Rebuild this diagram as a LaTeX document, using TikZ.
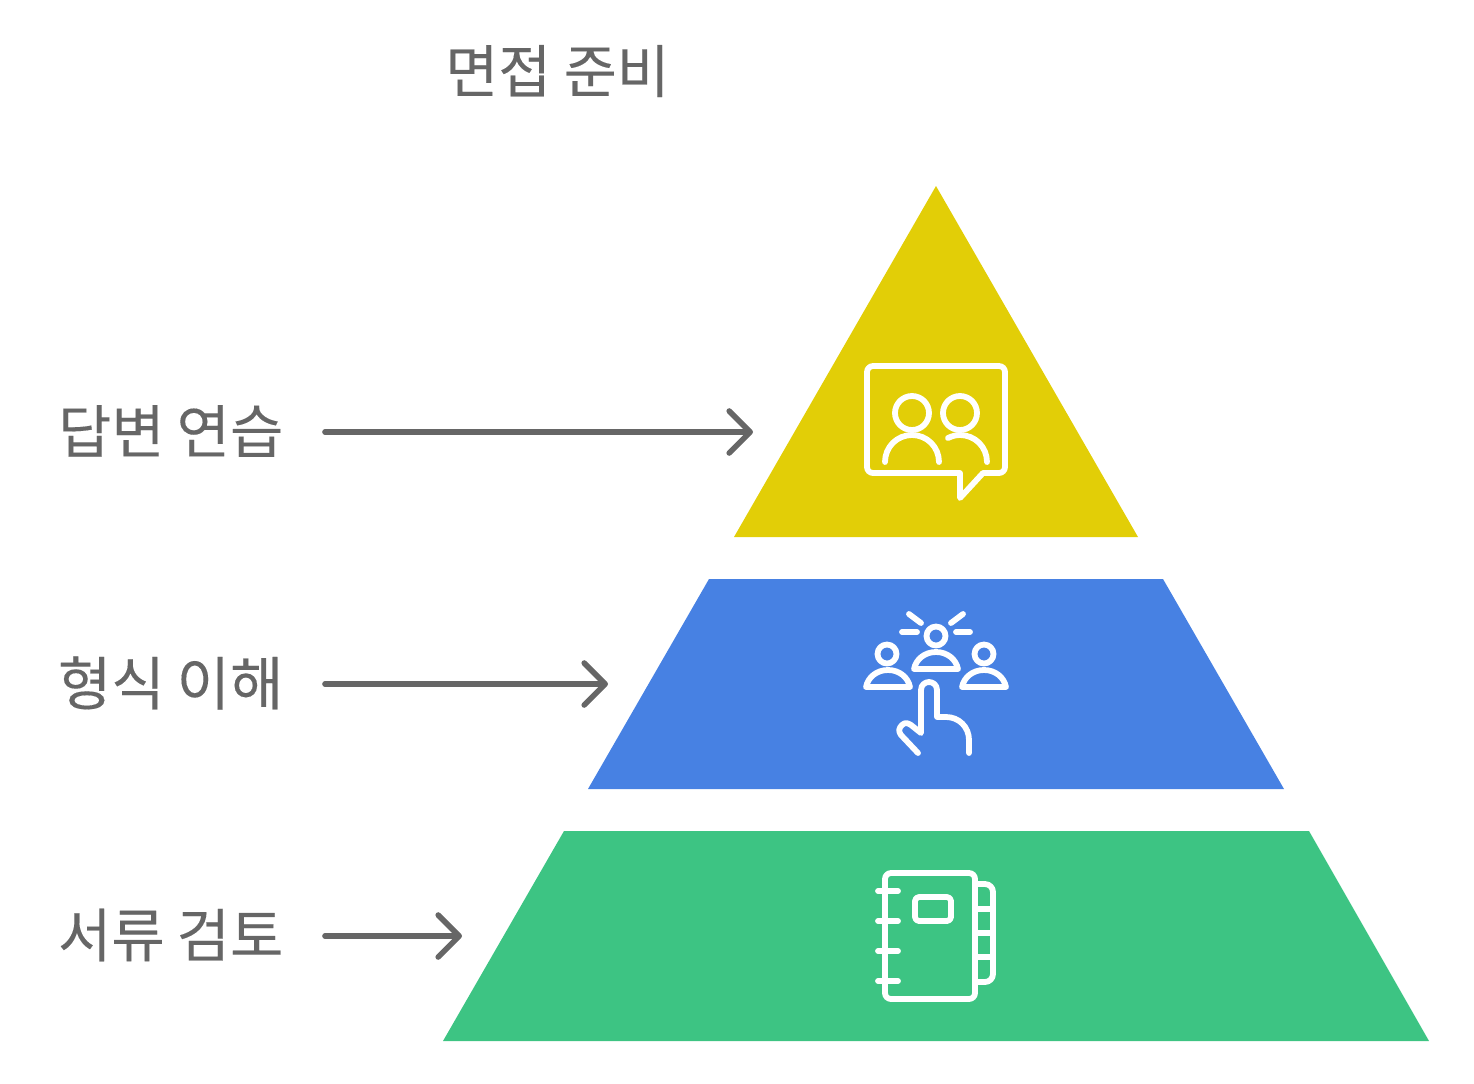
\documentclass[tikz,border=0pt]{standalone}
\usepackage{fontspec}
\usetikzlibrary{arrows.meta}
\setmainfont[FakeBold=0.15]{Noto Sans CJK KR}
\definecolor{gyel}{HTML}{E2CE07}
\definecolor{gblu}{HTML}{4781E3}
\definecolor{ggrn}{HTML}{3DC483}
\definecolor{ggry}{HTML}{666666}
\newcommand{\tightsp}{\spaceskip 6pt\relax}
\tikzset{
  lab/.style={inner sep=0pt,outer sep=0pt,text=ggry,font=\fontsize{29pt}{33pt}\selectfont,anchor=west,text width=133.5pt,align=left},
  ttl/.style={inner sep=0pt,outer sep=0pt,text=ggry,font=\fontsize{28.7pt}{33pt}\selectfont},
  arr/.style={draw=ggry,line width=2.8pt,line cap=round,-{Straight Barb[length=10.5pt,width=21pt,round,line width=2.8pt]}},
  ico/.style={draw=white,line width=2.9pt,line cap=round,line join=round},
}
\begin{document}
\begin{tikzpicture}[x=0.5pt,y=-0.5pt]
\useasboundingbox (0,0) rectangle (1474,1083);
\fill[gyel] (936,186) -- (1138,537) -- (734,537) -- cycle;
\fill[gblu] (709,579) -- (1163,579) -- (1284,789) -- (588,789) -- cycle;
\fill[ggrn] (564,831) -- (1309,831) -- (1429,1041) -- (443,1041) -- cycle;
\node[ttl] (title) at (557.5,71) {면접 준비};
\node[lab] (l1) at (58,431) {\tightsp 답변 연습};
\node[lab] (l2) at (58,683) {\tightsp 형식 이해};
\node[lab] (l3) at (58,935) {\tightsp 서류 검토};
\coordinate (t1) at (753,432);
\coordinate (t2) at (608,684);
\coordinate (t3) at (462,936);
\draw[arr] (l1.east |- t1) -- (t1);
\draw[arr] (l2.east |- t2) -- (t2);
\draw[arr] (l3.east |- t3) -- (t3);
% icon 1
\draw[ico] (873,366) -- (999,366) arc[start angle=-90,end angle=0,radius=6] -- (1005,467) arc[start angle=0,end angle=90,radius=6] -- (983,473) -- (960,498) -- (960,473) -- (873,473) arc[start angle=90,end angle=180,radius=6] -- (867,372) arc[start angle=180,end angle=270,radius=6] -- cycle;
\draw[ico] (912,413) circle[radius=17];
\draw[ico] (960,413) circle[radius=17];
\draw[ico] (885,462) .. controls (885,447) and (897,435) .. (912,435) .. controls (927,435) and (939,447) .. (939,462);
\draw[ico] (948,438) .. controls (952,436) and (956,435) .. (960,435) .. controls (975,435) and (987,447) .. (987,462);
% icon 2
\draw[ico] (936,636) circle[radius=9.5];
\draw[ico] (914,669) .. controls (916,659) and (925,652) .. (936,652) .. controls (947,652) and (956,659) .. (958,669) -- cycle;
\draw[ico] (887,654) circle[radius=9.5];
\draw[ico] (866,687) .. controls (868,677) and (877,670) .. (888,670) .. controls (899,670) and (908,677) .. (910,687) -- cycle;
\draw[ico] (984,654) circle[radius=9.5];
\draw[ico] (962,687) .. controls (964,677) and (973,670) .. (984,670) .. controls (995,670) and (1004,677) .. (1006,687) -- cycle;
\draw[ico] (902,632) -- (917,632);
\draw[ico] (956,632) -- (970,632);
\draw[ico] (909,614) -- (921,623);
\draw[ico] (963,614) -- (951,623);
\draw[ico] (918,753) -- (901,735) .. controls (898,731) and (899,728) .. (902,725) .. controls (905,722) and (908,723) .. (911,725) -- (921,733) -- (921,690) .. controls (921,685) and (925,682) .. (929,682) .. controls (933,682) and (937,685) .. (937,690) -- (937,717) -- (946,717) .. controls (959,717) and (969,727) .. (969,740) -- (969,753);
% icon 3
\draw[ico] (891,873) -- (969,873) arc[start angle=-90,end angle=0,radius=6] -- (975,993) arc[start angle=0,end angle=90,radius=6] -- (891,999) arc[start angle=90,end angle=180,radius=6] -- (885,879) arc[start angle=180,end angle=270,radius=6] -- cycle;
\foreach \yy in {891,921,951,981} \draw[ico] (878,\yy) -- (898,\yy);
\draw[ico] (919,897) -- (947,897) arc[start angle=-90,end angle=0,radius=4] -- (951,917) arc[start angle=0,end angle=90,radius=4] -- (919,921) arc[start angle=90,end angle=180,radius=4] -- (915,901) arc[start angle=180,end angle=270,radius=4] -- cycle;
\draw[ico] (975,884) -- (985,884) arc[start angle=-90,end angle=0,radius=8] -- (993,974) arc[start angle=0,end angle=90,radius=8] -- (975,982);
\foreach \yy in {909,933,957} \draw[ico] (975,\yy) -- (993,\yy);
\end{tikzpicture}
\end{document}
